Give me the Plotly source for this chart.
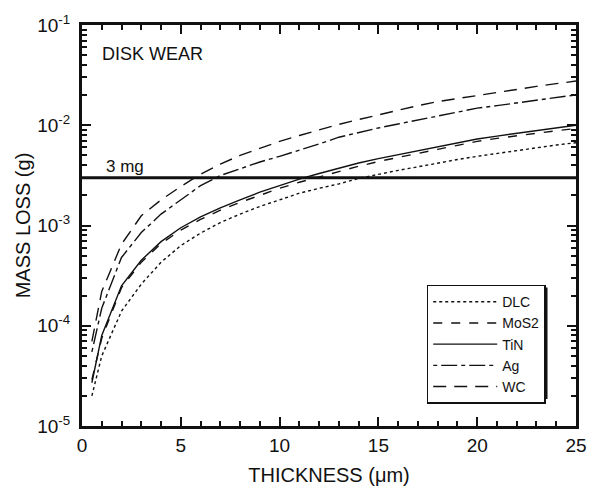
import plotly.graph_objects as go

thickness = [0.5, 1, 2, 3, 4, 5, 6, 7, 8, 9, 10, 11, 12, 13, 14, 15, 16, 17, 18, 19, 20, 21, 22, 23, 24, 25]

dlc = [2.0e-5, 5.0e-5, 1.4e-4, 2.6e-4, 4.3e-4, 6.3e-4, 8.4e-4, 1.07e-3, 1.3e-3, 1.55e-3, 1.8e-3,
       2.1e-3, 2.35e-3, 2.6e-3, 2.95e-3, 3.25e-3, 3.55e-3, 3.85e-3, 4.2e-3, 4.55e-3, 4.9e-3,
       5.25e-3, 5.6e-3, 6.0e-3, 6.35e-3, 6.7e-3]
mos2 = [2.9e-5, 7.5e-5, 2.4e-4, 4.3e-4, 6.6e-4, 9.0e-4, 1.15e-3, 1.42e-3, 1.7e-3, 2.0e-3, 2.35e-3,
        2.7e-3, 3.05e-3, 3.5e-3, 3.9e-3, 4.35e-3, 4.8e-3, 5.25e-3, 5.75e-3, 6.3e-3, 6.9e-3,
        7.4e-3, 7.8e-3, 8.3e-3, 8.8e-3, 9.3e-3]
tin = [2.7e-5, 8.0e-5, 2.5e-4, 4.5e-4, 6.9e-4, 9.5e-4, 1.22e-3, 1.5e-3, 1.8e-3, 2.15e-3, 2.5e-3,
       2.9e-3, 3.3e-3, 3.75e-3, 4.2e-3, 4.65e-3, 5.1e-3, 5.6e-3, 6.1e-3, 6.7e-3, 7.3e-3,
       7.8e-3, 8.3e-3, 8.9e-3, 9.4e-3, 1.0e-2]
ag = [5.5e-5, 1.5e-4, 4.8e-4, 8.5e-4, 1.3e-3, 1.8e-3, 2.5e-3, 3.15e-3, 3.7e-3, 4.3e-3, 4.9e-3,
      5.6e-3, 6.5e-3, 7.6e-3, 8.5e-3, 9.4e-3, 1.03e-2, 1.13e-2, 1.24e-2, 1.36e-2, 1.48e-2,
      1.57e-2, 1.67e-2, 1.78e-2, 1.9e-2, 2.01e-2]
wc = [7.0e-5, 2.2e-4, 6.5e-4, 1.25e-3, 1.8e-3, 2.45e-3, 3.25e-3, 4.1e-3, 5.0e-3, 5.9e-3, 6.9e-3,
      7.9e-3, 9.0e-3, 1.02e-2, 1.14e-2, 1.27e-2, 1.42e-2, 1.57e-2, 1.72e-2, 1.85e-2, 1.98e-2,
      2.13e-2, 2.28e-2, 2.44e-2, 2.6e-2, 2.76e-2]

series_names = ["DLC", "MoS2", "TiN", "Ag", "WC"]
series_vals = [dlc, mos2, tin, ag, wc]
series_dash = ["dot", "dash", "solid", "4px,4px,16px,4px", "13px,8px"]

limit_value = 3e-3
limit_x = [0, 25]
limit_y = [limit_value, limit_value]

x_major = [0, 5, 10, 15, 20, 25]
x_minor = list(range(0, 26))
y_major = [1e-5, 1e-4, 1e-3, 1e-2, 1e-1]
y_major_text = ["10<sup>-5</sup>", "10<sup>-4</sup>", "10<sup>-3</sup>", "10<sup>-2</sup>", "10<sup>-1</sup>"]
y_minor = [m * 10.0 ** e for e in range(-5, -1) for m in range(2, 10)]

FONT = "Liberation Sans, Arial, sans-serif"
INK = "#111111"

L, R, T, B = 82, 14, 15, 64
W, H = 599, 496
PW, PH = W - L - R, H - T - B


def px_to_paper(x0, y0, x1, y1):
    return dict(x0=(x0 - L) / PW, x1=(x1 - L) / PW, y0=(H - B - y0) / PH, y1=(H - B - y1) / PH)


fig = go.Figure()
for name, vals, dash in zip(series_names, series_vals, series_dash):
    fig.add_trace(go.Scatter(x=thickness, y=vals, mode="lines", name=name,
                             line=dict(color=INK, width=1.4, dash=dash)))

fig.add_trace(go.Scatter(x=limit_x, y=limit_y, mode="lines", showlegend=False,
                         line=dict(color=INK, width=3)))

legend_left, legend_top = 433, 285
legend_w, legend_h = 120, 116
fig.update_layout(
    width=W, height=H,
    margin=dict(l=L, r=R, t=T, b=B),
    paper_bgcolor="white", plot_bgcolor="white",
    font=dict(family=FONT, size=16, color=INK),
    showlegend=True,
    legend=dict(x=(legend_left - L) / PW, y=(H - B - legend_top) / PH, xanchor="left", yanchor="top",
                bgcolor="white", bordercolor=INK, borderwidth=1.5,
                font=dict(size=14, family=FONT, color=INK), itemwidth=64,
                tracegroupgap=0),
    shapes=[dict(type="rect", xref="paper", yref="paper", layer="above",
                 fillcolor=INK, line=dict(width=0),
                 **px_to_paper(legend_left + 3, legend_top + 3,
                               legend_left + legend_w + 3, legend_top + legend_h + 3))],
    annotations=[
        dict(x=1.1, y=-2.523, xref="x", yref="y", text="3 mg", showarrow=False,
             xanchor="left", yanchor="bottom", yshift=0, font=dict(size=17)),
        dict(x=0.9, y=-1.29, xref="x", yref="y", text="DISK WEAR", showarrow=False,
             xanchor="left", yanchor="middle", font=dict(size=18)),
    ],
)

fig.update_xaxes(
    range=[0, 25], tickmode="array", tickvals=x_major, ticktext=[str(v) for v in x_major],
    ticks="inside", ticklen=9, tickwidth=2, tickcolor=INK,
    minor=dict(tickmode="array", tickvals=x_minor, ticks="inside", ticklen=5, tickwidth=1.5,
               tickcolor=INK, showgrid=False),
    showline=True, linewidth=3, linecolor=INK, mirror="ticks", showgrid=False, zeroline=False,
    tickfont=dict(size=19), title=dict(text="THICKNESS (\u03bcm)", font=dict(size=20), standoff=14),
)
fig.update_yaxes(
    type="log", range=[-5, -1], tickmode="array", tickvals=y_major, ticktext=y_major_text,
    ticks="inside", ticklen=9, tickwidth=2, tickcolor=INK, ticklabelstandoff=5,
    minor=dict(tickmode="array", tickvals=y_minor, ticks="inside", ticklen=5, tickwidth=1.5,
               tickcolor=INK, showgrid=False),
    showline=True, linewidth=3, linecolor=INK, mirror="ticks", showgrid=False, zeroline=False,
    tickfont=dict(size=19), title=dict(text="MASS LOSS (g)", font=dict(size=20), standoff=2),
)

fig.write_html("out.html")
